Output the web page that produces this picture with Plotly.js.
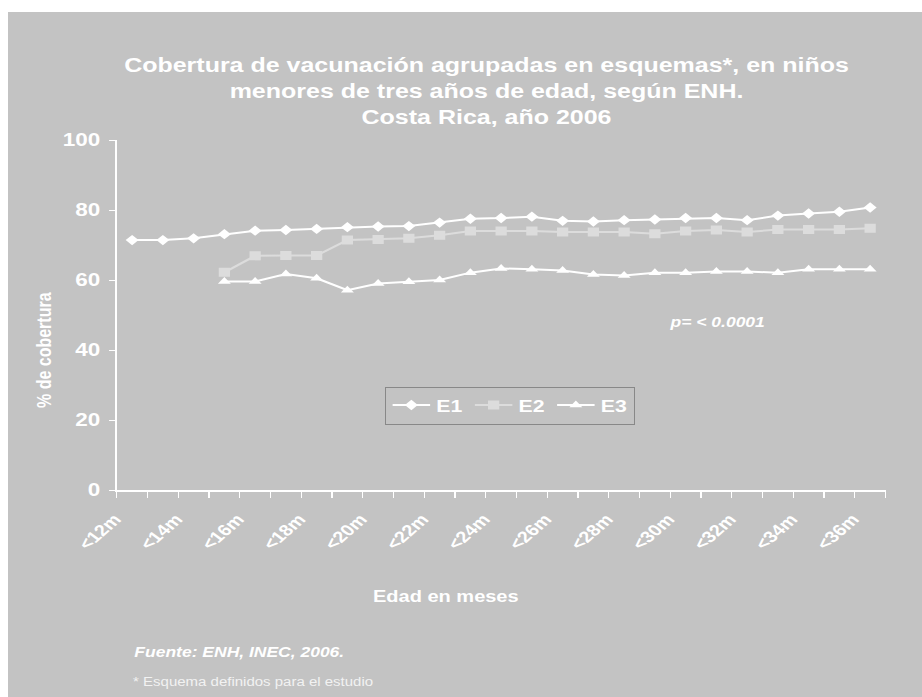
<!DOCTYPE html>
<html>
<head>
<meta charset="utf-8">
<script src="https://cdn.plot.ly/plotly-3.0.1.min.js"></script>
<style>
html,body{margin:0;padding:0;background:#ffffff;width:922px;height:697px;overflow:hidden}
#wrap{position:absolute;left:8px;top:12px;width:914px;height:685px;overflow:hidden;background:#C3C3C3}
#chart{width:731px;height:685px;transform:scaleX(1.25);transform-origin:0 0}
</style>
</head>
<body>
<div id="wrap"><div id="chart"></div></div>
<script>
var categories = ['<12m','<13m','<14m','<15m','<16m','<17m','<18m','<19m','<20m','<21m','<22m','<23m','<24m','<25m','<26m','<27m','<28m','<29m','<30m','<31m','<32m','<33m','<34m','<35m','<36m'];
var tickLabels = ['<12m','','<14m','','<16m','','<18m','','<20m','','<22m','','<24m','','<26m','','<28m','','<30m','','<32m','','<34m','','<36m'];
var e1 = [71.4,71.4,71.9,73.1,74.1,74.3,74.6,75.1,75.3,75.4,76.4,77.5,77.7,78.1,76.9,76.7,77.1,77.3,77.7,77.7,77.1,78.4,79.0,79.5,80.7];
var e2 = [null,null,null,62.2,66.9,67.0,67.0,71.4,71.6,71.9,72.8,74.0,74.0,74.0,73.7,73.7,73.7,73.2,74.0,74.3,73.7,74.4,74.4,74.4,74.8];
var e3 = [null,null,null,59.6,59.6,61.7,60.5,57.1,59.0,59.5,60.0,62.1,63.3,63.1,62.7,61.6,61.3,62.1,62.1,62.4,62.4,62.1,63.1,63.1,63.1];

var FONT = 'Liberation Sans, Arial, sans-serif';
var BG = '#C3C3C3';

var traces = [
  {x: categories, y: e1, name: 'E1', type: 'scatter', mode: 'lines+markers',
   line: {color: '#ffffff', width: 2}, marker: {symbol: 'diamond', size: 8, color: '#ffffff'}},
  {x: categories, y: e2, name: 'E2', type: 'scatter', mode: 'lines+markers',
   line: {color: '#DCDCDC', width: 2}, marker: {symbol: 'square', size: 9, color: '#DCDCDC'}},
  {x: categories, y: e3, name: 'E3', type: 'scatter', mode: 'lines+markers',
   line: {color: '#ffffff', width: 2}, marker: {symbol: 'triangle-up', size: 9, color: '#ffffff'}}
];

var layout = {
  width: 731, height: 685,
  margin: {l: 87, r: 29, t: 128, b: 207},
  paper_bgcolor: BG, plot_bgcolor: BG,
  font: {family: FONT, color: '#ffffff'},
  showlegend: true,
  title: {
    text: 'Cobertura de vacunación agrupadas en esquemas*, en niños<br>menores de tres años de edad, según ENH.<br>Costa Rica, año 2006',
    font: {family: FONT, size: 20, color: '#ffffff', weight: 'bold'},
    xref: 'container', yref: 'container', x: 0.5237, y: 0.9125, xanchor: 'center', yanchor: 'middle'
  },
  xaxis: {
    type: 'category', categoryorder: 'array', categoryarray: categories,
    tickmode: 'array', tickvals: categories, ticktext: tickLabels,
    tickson: 'boundaries', ticks: 'outside', ticklen: 6, tickcolor: '#ffffff', tickwidth: 1,
    tickangle: -48, tickfont: {family: FONT, size: 16, color: '#ffffff', weight: 'bold'},
    ticklabelstandoff: 12, ticklabelshift: -14,
    showline: true, linecolor: '#ffffff', linewidth: 1.5, showgrid: false, zeroline: false,
    range: [-0.5, 24.5], fixedrange: true
  },
  yaxis: {
    range: [0, 100], tickmode: 'linear', tick0: 0, dtick: 20,
    ticks: 'outside', ticklen: 5, tickcolor: '#ffffff', tickwidth: 1,
    tickfont: {family: FONT, size: 18, color: '#ffffff', weight: 'bold'},
    ticklabelstandoff: 3,
    showline: true, linecolor: '#ffffff', linewidth: 1.5, showgrid: false, zeroline: false, fixedrange: true
  },
  legend: {
    orientation: 'h', x: 0.5117, y: 0.2414, xanchor: 'center', yanchor: 'middle',
    bgcolor: 'rgba(0,0,0,0)', bordercolor: '#888888', borderwidth: 1,
    font: {family: FONT, size: 17, color: '#ffffff', weight: 'bold'}
  },
  annotations: [
    {text: 'p= < 0.0001', xref: 'paper', yref: 'paper', x: 0.7815, y: 0.48, xanchor: 'center', yanchor: 'middle', showarrow: false,
     font: {family: FONT, size: 14, color: '#ffffff', weight: 'bold', style: 'italic'}},
    {text: 'Edad en meses', xref: 'paper', yref: 'paper', x: 0.4283, y: -0.3029, xanchor: 'center', yanchor: 'middle', showarrow: false,
     font: {family: FONT, size: 16, color: '#ffffff', weight: 'bold'}},
    {text: '% de cobertura', xref: 'paper', yref: 'paper', x: -0.0959, y: 0.4, xanchor: 'center', yanchor: 'middle', showarrow: false, textangle: -90,
     font: {family: FONT, size: 16, color: '#ffffff', weight: 'bold'}},
    {text: 'Fuente: ENH, INEC, 2006.', xref: 'paper', yref: 'paper', x: 0.0198, y: -0.462, xanchor: 'left', yanchor: 'middle', showarrow: false,
     font: {family: FONT, size: 14, color: '#ffffff', weight: 'bold', style: 'italic'}},
    {text: '* Esquema definidos para el estudio', xref: 'paper', yref: 'paper', x: 0.0172, y: -0.5477, xanchor: 'left', yanchor: 'middle', showarrow: false,
     font: {family: FONT, size: 12, color: '#F2F2F2'}}
  ]
};

Plotly.newPlot('chart', traces, layout, {displayModeBar: false, staticPlot: true});
</script>
</body>
</html>
